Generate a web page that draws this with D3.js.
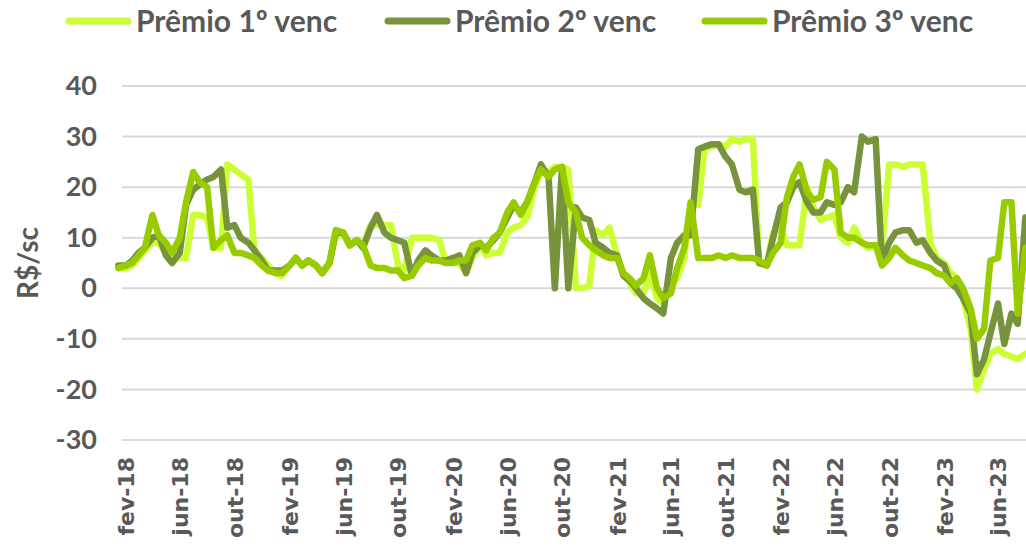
<!DOCTYPE html>
<html>
<head>
<meta charset="utf-8">
<script src="https://cdn.jsdelivr.net/npm/d3@7"></script>
<style>
  body { margin: 0; background: #fff; }
  svg { display: block; }
</style>
</head>
<body>
<svg id="chart" width="1026" height="552"></svg>
<script>
// categorias e séries (valores quinzenais)
var seriesNames = ["Prêmio 1º venc", "Prêmio 2º venc", "Prêmio 3º venc"];
var tickLabels = ["fev-18", "jun-18", "out-18", "fev-19", "jun-19", "out-19", "fev-20", "jun-20",
  "out-20", "fev-21", "jun-21", "out-21", "fev-22", "jun-22", "out-22", "fev-23", "jun-23"];
var yTicks = [40, 30, 20, 10, 0, -10, -20, -30];

// jan-18 (15) até ago-23 (1), 1º e 15 de cada mês
var dates = d3.range(134).map(function(k) {
  return new Date(2018, Math.floor((k + 1) / 2), k % 2 === 1 ? 1 : 15);
});

var premio1 = [4, 4, 4.5, 6, 7.5, 9, 9, 7, 6, 6,
  6, 14.5, 14.5, 14, 8, 8, 24.5, 23.5, 22.5, 21.5,
  7, 6, 4.5, 3, 2.5, 4.5, 6, 4.5, 5.5, 4.5,
  3, 5, 10.5, 11, 8.5, 9.5, 8.5, 12.5, 12.5, 12.5,
  12.5, 4.5, 3.5, 10, 10, 10, 10, 9.5, 5.5, 5,
  5, 3, 6, 8.5, 6.5, 7, 7, 11, 12, 12.5,
  14, 20, 23, 23, 24, 24, 23.5, 0, 0, 0.5,
  11.5, 10.5, 12, 6.5, 3, 1, -1, -1, 3, -2,
  -3, 1, 2, 6, 16.5, 16.5, 27.5, 28, 28.5, 28,
  29.5, 29, 29.5, 29.5, 5, 5, 11, 12, 8.5, 8.5,
  8.5, 20, 16, 13.5, 14, 14.5, 10, 9, 12, 9,
  8, 8.5, 8, 24.5, 24.5, 24, 24.5, 24.5, 24.5, 9,
  6, 5, 3, 2, -2, -8, -20, -16, -13, -12,
  -13, -13.5, -14, -13];

var premio2 = [4.5, 4.5, 5.5, 7, 8, 10, 10.5, 6.5, 5, 7,
  16.5, 19.5, 20.5, 21.5, 22, 23.5, 12, 12.5, 10, 9,
  7.5, 5.5, 3.5, 3.5, 3.5, 4.5, 6, 4.5, 5.5, 4.5,
  3, 5, 11, 11, 8.5, 9.5, 8, 12, 14.5, 11,
  10, 9.5, 9, 2.5, 5.5, 7.5, 6.5, 5.5, 5.5, 6,
  6.5, 3, 7, 8.5, 8, 9.5, 11, 14, 16.5, 15,
  17, 21, 24.5, 22, 0, 24, 0, 16, 14, 13.5,
  9, 8, 7, 6.5, 2.5, 1.5, 0, -2, -3, -4,
  -5, 6, 9, 10.5, 10.5, 27.5, 28, 28.5, 28.5, 26,
  24.5, 19.5, 19, 19.5, 5, 4.5, 10, 16, 17, 20,
  21, 17, 15, 15, 17, 16.5, 17, 20, 19, 30,
  29, 29.5, 5, 9, 11, 11.5, 11.5, 9, 9.5, 7,
  5.5, 4.5, 1, 0, -2, -5, -17, -14, -9, -3,
  -11, -5, -7, 14];

var premio3 = [4, 4.5, 5, 6.5, 8, 14.5, 10.5, 9, 7, 10,
  17, 23, 21, 20, 8, 9.5, 10.5, 7, 7, 6.5,
  6, 4.5, 3.5, 3, 3, 4.5, 6, 4.5, 5.5, 4.5,
  3, 5, 11.5, 11, 8.5, 9.5, 8.5, 4.5, 4, 4,
  3.5, 3.5, 2, 2.5, 4.5, 6, 5.5, 5.5, 5, 5,
  5.5, 5.5, 8.5, 9, 7.5, 10, 11, 15, 17, 14.5,
  17, 21, 23.5, 22, 23.5, 24, 17, 15, 10, 8.5,
  7.5, 6.5, 6, 6, 3, 2, 0.5, 2, 6.5, 0,
  -2, -1, 4, 8, 17, 6, 6, 6, 6.5, 6,
  6.5, 6, 6, 6, 5.5, 4.5, 7, 9, 18, 22,
  24.5, 19, 17.5, 18, 25, 23.5, 11, 10, 10, 9,
  8.5, 8.5, 4.5, 6, 8, 6.5, 5.5, 5, 4.5, 4,
  3, 2.5, 1, 2, 0, -4, -10, -8, 5.5, 6,
  17, 17, -5, 8];

var colors = ["#CCFF33", "#77933C", "#99CC00"];

var svg = d3.select("#chart");

var x = d3.scaleTime()
    .domain([new Date(2018, 1, 1), new Date(2023, 5, 1)])
    .range([126, 998]);

var y = d3.scaleLinear()
    .domain([-30, 40])
    .range([440, 86]);

/* linhas de grade */
svg.append("g")
  .selectAll("line")
  .data(yTicks)
  .enter().append("line")
    .attr("x1", 122)
    .attr("x2", 1026)
    .attr("y1", function(d) { return y(d); })
    .attr("y2", function(d) { return y(d); })
    .attr("stroke", "#d9d9d9")
    .attr("stroke-width", 2);

/* eixo y */
var yAxis = svg.append("g")
    .attr("transform", "translate(97,0)")
    .call(d3.axisLeft(y).tickValues(yTicks).tickSize(0).tickPadding(0)
      .tickFormat(function(d) { return String(d); }));
yAxis.select(".domain").remove();
yAxis.selectAll("text")
    .attr("font-family", "Lato, sans-serif")
    .attr("font-weight", 700)
    .attr("font-size", 27)
    .attr("fill", "#595959");

/* eixo x */
var tickDates = tickLabels.map(function(d, i) { return new Date(2018, 1 + 4 * i, 1); });
var xAxis = svg.append("g")
    .attr("transform", "translate(0,452)")
    .call(d3.axisBottom(x).tickValues(tickDates).tickSize(0)
      .tickFormat(function(d, i) { return tickLabels[i]; }));
xAxis.select(".domain").remove();
xAxis.selectAll("text")
    .attr("font-family", "'DejaVu Sans', sans-serif")
    .attr("font-weight", 700)
    .attr("font-size", 22)
    .attr("fill", "#595959")
    .attr("text-anchor", "end")
    .attr("transform", "rotate(-90)")
    .attr("x", -5)
    .attr("y", 0)
    .attr("dy", "0.36em");

/* título do eixo y */
svg.append("text")
    .attr("transform", "translate(38,263) rotate(-90)")
    .attr("text-anchor", "middle")
    .attr("font-family", "Lato, sans-serif")
    .attr("font-weight", 700)
    .attr("font-size", 28)
    .attr("fill", "#595959")
    .text("R$/sc");

/* séries */
var line = d3.line()
    .x(function(d) { return x(d.date); })
    .y(function(d) { return y(d.value); });

var seriesData = [premio1, premio2, premio3].map(function(vals, i) {
  return { name: seriesNames[i], color: colors[i],
    values: vals.map(function(v, k) { return { date: dates[k], value: v }; }) };
});

svg.append("g")
  .selectAll("path")
  .data(seriesData)
  .enter().append("path")
    .attr("d", function(d) { return line(d.values); })
    .attr("fill", "none")
    .attr("stroke", function(d) { return d.color; })
    .attr("stroke-width", 6.5)
    .attr("stroke-linejoin", "round")
    .attr("stroke-linecap", "round");

/* legenda */
var legendX = [66, 385, 702];
var legend = svg.append("g")
  .selectAll("g")
  .data(seriesData)
  .enter().append("g")
    .attr("transform", function(d, i) { return "translate(" + legendX[i] + ",21)"; });

legend.append("line")
    .attr("x1", 3).attr("x2", 62)
    .attr("stroke", function(d) { return d.color; })
    .attr("stroke-width", 7)
    .attr("stroke-linecap", "round");

legend.append("text")
    .attr("x", 70)
    .attr("dy", "0.35em")
    .attr("font-family", "Lato, sans-serif")
    .attr("font-weight", 700)
    .attr("font-size", 30)
    .attr("fill", "#595959")
    .text(function(d) { return d.name; });
</script>
</body>
</html>
